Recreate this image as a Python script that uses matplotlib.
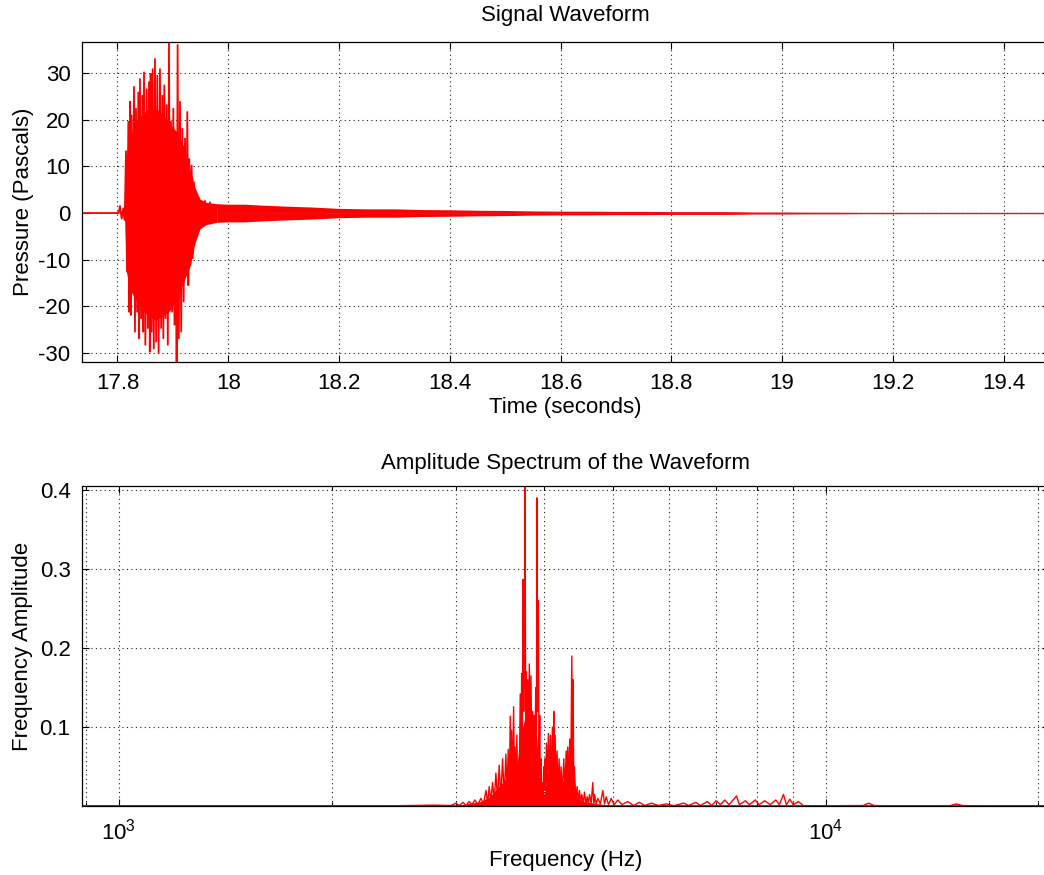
import numpy as np
import matplotlib
matplotlib.use("Agg")
import matplotlib.pyplot as plt
from matplotlib.ticker import LogLocator, NullFormatter, FixedLocator

plt.rcParams['font.family'] = ['Liberation Sans', 'DejaVu Sans']
plt.rcParams['mathtext.fontset'] = 'custom'
plt.rcParams['mathtext.rm'] = 'Liberation Sans'
plt.rcParams['axes.unicode_minus'] = False

# ---------------- data: waveform ----------------
lead_t = [17.70, 17.802]
lead_v = [0.0, 0.0]

# spike peaks of the burst (positive peaks; negative peaks fall between them)
burst_pos_t = [17.8045, 17.8106, 17.8154, 17.8196, 17.8226, 17.8256, 17.8298, 17.8334,
               17.8376, 17.8406, 17.8449, 17.8479, 17.8527, 17.8569, 17.8599, 17.8635,
               17.8677, 17.8719, 17.8767, 17.8810, 17.8846, 17.8888, 17.8930, 17.8966,
               17.9008, 17.9050, 17.9086, 17.9129, 17.9171, 17.9219, 17.9261, 17.9297,
               17.9339, 17.9381, 17.9417, 17.9459, 17.9520, 17.9580, 17.9670, 17.9790]
burst_pos_v = [1.5, 1.0, 13.3, 19.6, 23.9, 21.0, 27.1, 22.4,
               25.9, 28.8, 25.2, 30.2, 26.6, 28.1, 29.9, 30.9,
               33.1, 29.5, 30.9, 25.2, 27.4, 23.2, 36.8, 19.6,
               22.4, 16.7, 36.1, 23.9, 18.1, 16.0, 21.7, 11.6,
               10.2, 6.6, 4.5, 3.0, 2.3, 2.6, 2.3, 1.6]
burst_neg_v = [-1.2, -1.5, -12.6, -21.2, -21.9, -16.9, -25.5, -21.2,
               -26.9, -22.6, -25.5, -28.3, -24.7, -29.8, -25.5, -29.1,
               -27.6, -30.1, -24.7, -26.9, -22.6, -28.3, -18.3, -21.2,
               -24.0, -32.5, -26.9, -25.5, -19.0, -12.6, -15.5, -11.2,
               -9.7, -5.4, -4.0, -3.3, -2.6, -2.2, -1.9]

# solid body of the burst
body_t = [17.8130, 17.8150, 17.8226, 17.8346, 17.8467, 17.8587, 17.8707, 17.8827,
          17.8948, 17.9068, 17.9188, 17.9309, 17.9399, 17.9490, 17.9600, 17.9790]
body_hi = [1.0, 12.0, 16.5, 20.0, 21.5, 22.5, 22.5, 21.0, 19.0, 17.5, 14.5, 9.5, 5.5, 3.0, 2.3, 2.0]
body_lo = [-1.0, -12.0, -16.5, -19.0, -21.0, -22.5, -23.0, -22.0, -21.0, -18.5, -15.0,
           -11.5, -6.5, -3.4, -2.5, -2.0]

tail_t = [17.979, 18.0, 18.03, 18.06, 18.1, 18.15, 18.2, 18.25, 18.3, 18.35, 18.4,
          18.45, 18.5, 18.55, 18.6, 18.65, 18.7, 18.75, 18.8, 18.85, 18.9, 18.95,
          19.0, 19.05, 19.1, 19.15, 19.2, 19.25, 19.3, 19.35, 19.4, 19.5]
tail_env = [2.0, 1.9, 1.9, 1.7, 1.5, 1.3, 1.0, 0.9, 0.9, 0.75, 0.7,
            0.6, 0.55, 0.45, 0.4, 0.4, 0.35, 0.35, 0.3, 0.3, 0.3, 0.2,
            0.2, 0.15, 0.15, 0.1, 0.12, 0.08, 0.1, 0.06, 0.03, 0.03]

# ---------------- data: spectrum ----------------
spec_f = [880, 2500, 2800, 2950, 3000, 3030, 3070, 3100, 3130, 3160, 3190, 3220,
          3253, 3280, 3307, 3325, 3343, 3360, 3379, 3398, 3416, 3435, 3453, 3472,
          3491, 3510, 3529, 3542, 3556, 3568, 3580, 3588, 3595, 3607, 3619, 3627,
          3635, 3646, 3658, 3666, 3674, 3686, 3698, 3706, 3715, 3723, 3731, 3740,
          3747, 3752, 3756, 3764, 3772, 3780, 3789, 3799, 3809, 3820, 3830, 3840,
          3851, 3862, 3872, 3880, 3889, 3898, 3906, 3914, 3923, 3932, 3940, 3948,
          3957, 3965, 3974, 3983, 3992, 4000, 4009, 4018, 4027, 4040, 4053, 4066,
          4080, 4093, 4107, 4116, 4125, 4134, 4143, 4156, 4169, 4183, 4197, 4210,
          4224, 4242, 4261, 4278, 4294, 4305, 4317, 4331, 4345, 4360, 4374, 4384,
          4393, 4402, 4412, 4431, 4451, 4468, 4485, 4502, 4519, 4539, 4559, 4579,
          4599, 4617, 4634, 4659, 4684, 4697, 4710, 4735, 4761, 4800, 4840, 4866,
          4893, 4930, 4973, 5020, 5083, 5150, 5250, 5350, 5450, 5550, 5669, 5800,
          5950, 6100, 6300, 6400, 6550, 6650, 6800, 6900, 7000, 7100, 7200, 7300,
          7480, 7550, 7700, 7800, 7950, 8050, 8200, 8350, 8500, 8600, 8716, 8800,
          8900, 9000, 9150, 9300, 10500, 11300, 11500, 11700, 12000, 15000, 15300,
          15600, 16000, 22000]
spec_a = [0.0005, 0.0008, 0.0015, 0.001, 0.004, 0.001, 0.005, 0.001, 0.006, 0.002, 0.008, 0.002,
          0.010, 0.003, 0.020, 0.004, 0.025, 0.005, 0.030, 0.006, 0.042, 0.008, 0.052, 0.010,
          0.060, 0.012, 0.066, 0.015, 0.072, 0.020, 0.114, 0.030, 0.096, 0.025, 0.126, 0.040,
          0.075, 0.030, 0.090, 0.020, 0.050, 0.030, 0.142, 0.050, 0.168, 0.080, 0.287, 0.120,
          0.270, 0.150, 0.410, 0.100, 0.170, 0.060, 0.160, 0.080, 0.180, 0.070, 0.165, 0.040,
          0.120, 0.030, 0.115, 0.050, 0.150, 0.080, 0.390, 0.120, 0.260, 0.040, 0.115, 0.010,
          0.060, 0.005, 0.030, 0.010, 0.050, 0.020, 0.060, 0.020, 0.080, 0.030, 0.092, 0.030,
          0.090, 0.025, 0.100, 0.040, 0.120, 0.030, 0.090, 0.020, 0.070, 0.015, 0.060, 0.010,
          0.050, 0.015, 0.060, 0.020, 0.070, 0.020, 0.075, 0.030, 0.085, 0.040, 0.190, 0.060,
          0.160, 0.020, 0.050, 0.008, 0.025, 0.005, 0.020, 0.004, 0.015, 0.004, 0.018, 0.003,
          0.012, 0.003, 0.015, 0.004, 0.030, 0.004, 0.015, 0.003, 0.010, 0.003, 0.020, 0.003,
          0.012, 0.002, 0.010, 0.002, 0.008, 0.002, 0.006, 0.001, 0.005, 0.001, 0.004, 0.001,
          0.003, 0.0008, 0.004, 0.001, 0.005, 0.001, 0.006, 0.001, 0.007, 0.002, 0.008, 0.002,
          0.013, 0.002, 0.007, 0.002, 0.008, 0.002, 0.007, 0.002, 0.008, 0.002, 0.015, 0.002,
          0.009, 0.002, 0.006, 0.0008, 0.0008, 0.001, 0.004, 0.001, 0.0008, 0.0008, 0.003,
          0.001, 0.0008, 0.0005]

# solid body of the spectrum cluster
sbody_f = [2950, 3100, 3250, 3350, 3450, 3530, 3590, 3650, 3700, 3750, 3800, 3850, 3900,
           3940, 3970, 4010, 4060, 4110, 4160, 4220, 4290, 4340, 4375, 4410, 4460, 4550,
           4700, 4900, 5200]
sbody_a = [0.0, 0.003, 0.006, 0.012, 0.025, 0.035, 0.055, 0.045, 0.09, 0.11, 0.12, 0.08, 0.09,
           0.03, 0.01, 0.02, 0.05, 0.06, 0.045, 0.03, 0.035, 0.05, 0.08, 0.02, 0.01, 0.006,
           0.004, 0.002, 0.0]

# ---------------- figure ----------------
W, H = 1044, 875
fig = plt.figure(figsize=(W / 100, H / 100), dpi=100)
FS = 16
RED = '#FF0000'

def px_axes(left, top, right, bottom):
    return fig.add_axes([left / W, 1 - bottom / H, (right - left) / W, (bottom - top) / H])

def style(ax):
    ax.grid(True, which='both', linestyle=(0, (1, 3)), color='#202020', linewidth=0.8)
    ax.tick_params(which='both', direction='in', top=True, right=True, labelsize=FS,
                   length=5, width=0.8, pad=8)
    ax.tick_params(which='minor', length=3)
    for s in ax.spines.values():
        s.set_linewidth(0.9)
    ax.set_axisbelow(True)

# --- top: waveform ---
ax1 = px_axes(81.7, 41.7, 1049, 361.7)
bt, bv = [], []
for i in range(len(burst_pos_t)):
    bt.append(burst_pos_t[i]); bv.append(burst_pos_v[i])
    if i < len(burst_neg_v):
        bt.append(0.5 * (burst_pos_t[i] + burst_pos_t[i + 1])); bv.append(burst_neg_v[i])
ax1.fill_between(body_t, body_lo, body_hi, color=RED, lw=0)
ax1.plot(lead_t + bt, lead_v + bv, color=RED, lw=1.3)
ax1.fill_between(tail_t, [-e for e in tail_env], tail_env, color=RED, lw=0)
ax1.plot(tail_t, [0.0] * len(tail_t), color='#C82020', lw=1.0)
ax1.set_xlim(17.7354, 19.482)
ax1.set_ylim(-31.93, 36.8)
ax1.set_xticks([17.8, 18.0, 18.2, 18.4, 18.6, 18.8, 19.0, 19.2, 19.4])
ax1.set_xticklabels(['17.8', '18', '18.2', '18.4', '18.6', '18.8', '19', '19.2', '19.4'])
ax1.set_yticks([-30, -20, -10, 0, 10, 20, 30])
style(ax1)
ax1.set_title('Signal Waveform', fontsize=FS, pad=15)
ax1.set_xlabel('Time (seconds)', fontsize=FS, labelpad=2)
ax1.set_ylabel('Pressure (Pascals)', fontsize=FS, labelpad=3)

# --- bottom: spectrum ---
ax2 = px_axes(81.7, 486, 1049, 806.3)
ax2.fill_between(sbody_f, 0, sbody_a, color=RED, lw=0)
ax2.plot(spec_f, spec_a, color=RED, lw=1.0)
ax2.axhline(0, color='#A02020', lw=2.0)
ax2.set_xscale('log')
ax2.set_xlim(886.3, 20700)
ax2.set_ylim(0, 0.405)
ax2.xaxis.set_major_locator(FixedLocator([1e3, 1e4]))
ax2.xaxis.set_minor_locator(LogLocator(base=10, subs=np.arange(2, 10), numticks=20))
ax2.xaxis.set_minor_formatter(NullFormatter())
ax2.set_yticks([0.1, 0.2, 0.3, 0.4])
ax2.set_yticklabels(['0.1', '0.2', '0.3', '0.4'])
style(ax2)
ax2.tick_params(axis='x', which='major', pad=9)
ax2.set_title('Amplitude Spectrum of the Waveform', fontsize=FS, pad=12)
ax2.set_xlabel('Frequency (Hz)', fontsize=FS, labelpad=4)
ax2.set_ylabel('Frequency Amplitude', fontsize=FS, labelpad=5)

fig.savefig('out.png', dpi=100)
